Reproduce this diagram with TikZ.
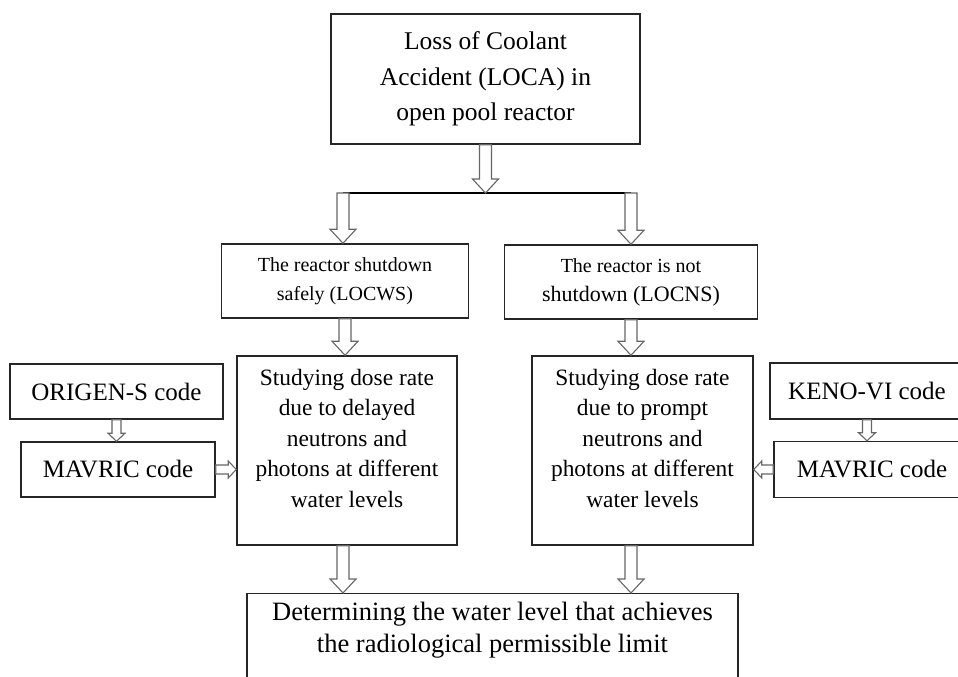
\documentclass[tikz,border=0pt]{standalone}
\usepackage{fontspec}
\setmainfont{Liberation Serif}
\usetikzlibrary{arrows.meta,positioning,calc}

\tikzset{
  hollow/.style n args={3}{draw=black!60,line width=1.1pt,fill=white,line join=miter,
    to path={($(\tikztostart)!#1!90:(\tikztotarget)$)
      -- ($(\tikztotarget)!#3!(\tikztostart)!#1!-90:(\tikztostart)$)
      -- ($(\tikztotarget)!#3!(\tikztostart)!#2!-90:(\tikztostart)$)
      -- (\tikztotarget)
      -- ($(\tikztotarget)!#3!(\tikztostart)!#2!90:(\tikztostart)$)
      -- ($(\tikztotarget)!#3!(\tikztostart)!#1!90:(\tikztostart)$)
      -- ($(\tikztostart)!#1!-90:(\tikztotarget)$) -- cycle}},
  bigarrow/.style={hollow={6pt}{13pt}{14pt}},
  smallarrow/.style={hollow={4.5pt}{8.5pt}{8pt}}
}

\begin{document}
\begin{tikzpicture}[x=1pt,y=1pt]
\tikzstyle{box}=[draw=black!85,line width=1.5pt,fill=white,inner sep=0pt,
align=center,font=\fontsize{23.4}{30.5}\selectfont]
\tikzstyle{codebox}=[box,minimum height=55pt,font=\fontsize{25}{30}\selectfont]
\path[use as bounding box,clip] (0,0) rectangle (958,677);

\node[box,minimum width=309pt,minimum height=130pt,
font=\fontsize{25.5}{35.5}\selectfont] at (485.5,598) (top)
{Loss of Coolant\\Accident (LOCA) in\\open pool reactor};
\node[box,minimum width=247pt,minimum height=74pt,
font=\fontsize{20}{29}\selectfont] at (345,396) (ws)
{The reactor shutdown\\safely (LOCWS)};
\node[box,minimum width=253pt,minimum height=74pt,
font=\fontsize{20}{29}\selectfont] at (631,395) (ns)
{The reactor is not\\{\fontsize{22}{29}\selectfont shutdown (LOCNS)}};

\node[box,inner ysep=13pt,minimum width=220pt] at (347,226.5) (dl)
{\parbox[c][163pt][t]{220pt}{\centering Studying dose rate\\due to delayed\\
neutrons and\\photons at different\\water levels}};
\node[box,inner ysep=13pt,minimum width=221pt] at (642.5,226.5) (pr)
{\parbox[c][163pt][t]{221pt}{\centering Studying dose rate\\due to prompt\\
neutrons and\\photons at different\\water levels}};

\node[codebox,minimum width=213pt] at (116.5,285.5) (og) {ORIGEN-S code};
\node[codebox,minimum width=194pt] at (118,207.5) (mvl) {MAVRIC code};
\node[codebox,minimum width=194pt,minimum height=56pt] at (867,286) (kn) {KENO-VI code};
\node[codebox,minimum width=196pt,minimum height=56pt] at (872,207.5) (mvr) {MAVRIC code};

\node[box,anchor=north,inner ysep=8pt,minimum width=491pt,
font=\fontsize{26.5}{32}\selectfont] at (492.5,84) (lvl)
{\parbox[c][100pt][t]{491pt}{\centering Determining the water level that achieves\\
the radiological permissible limit}};

% ends of the hollow arrows
\coordinate (bl) at (343,484);
\coordinate (br) at (631,484);
\coordinate (bm) at (top.south |- bl);
\coordinate (wsn) at (bl |- ws.north);
\coordinate (nsn) at (br |- ns.north);
\coordinate (dln) at (ws.south |- dl.north);
\coordinate (prn) at (ns.south |- pr.north);
\coordinate (dls) at (bl |- dl.south);
\coordinate (prs) at (br |- pr.south);
\coordinate (lvl1) at (bl |- lvl.north);
\coordinate (lvl2) at (br |- lvl.north);
\coordinate (ogm) at (og.south |- mvl.north);
\coordinate (knm) at (kn.south |- mvr.north);
\coordinate (mvle) at (mvl.east -| dl.west);
\coordinate (mvrw) at (mvr.west -| pr.east);

\draw[line width=1.1pt] (bl) -- (br);
\path[bigarrow] (top.south) to (bm);
\path[bigarrow] (bl) to (wsn);
\path[bigarrow] (br) to (nsn);
\path[bigarrow] (ws.south) to (dln);
\path[bigarrow] (ns.south) to (prn);
\path[bigarrow] (dls) to (lvl1);
\path[bigarrow] (prs) to (lvl2);

\path[smallarrow] (og.south) to (ogm);
\path[smallarrow] (kn.south) to (knm);
\path[smallarrow] (mvl.east) to (mvle);
\path[smallarrow] (mvr.west) to (mvrw);

\end{tikzpicture}
\end{document}
